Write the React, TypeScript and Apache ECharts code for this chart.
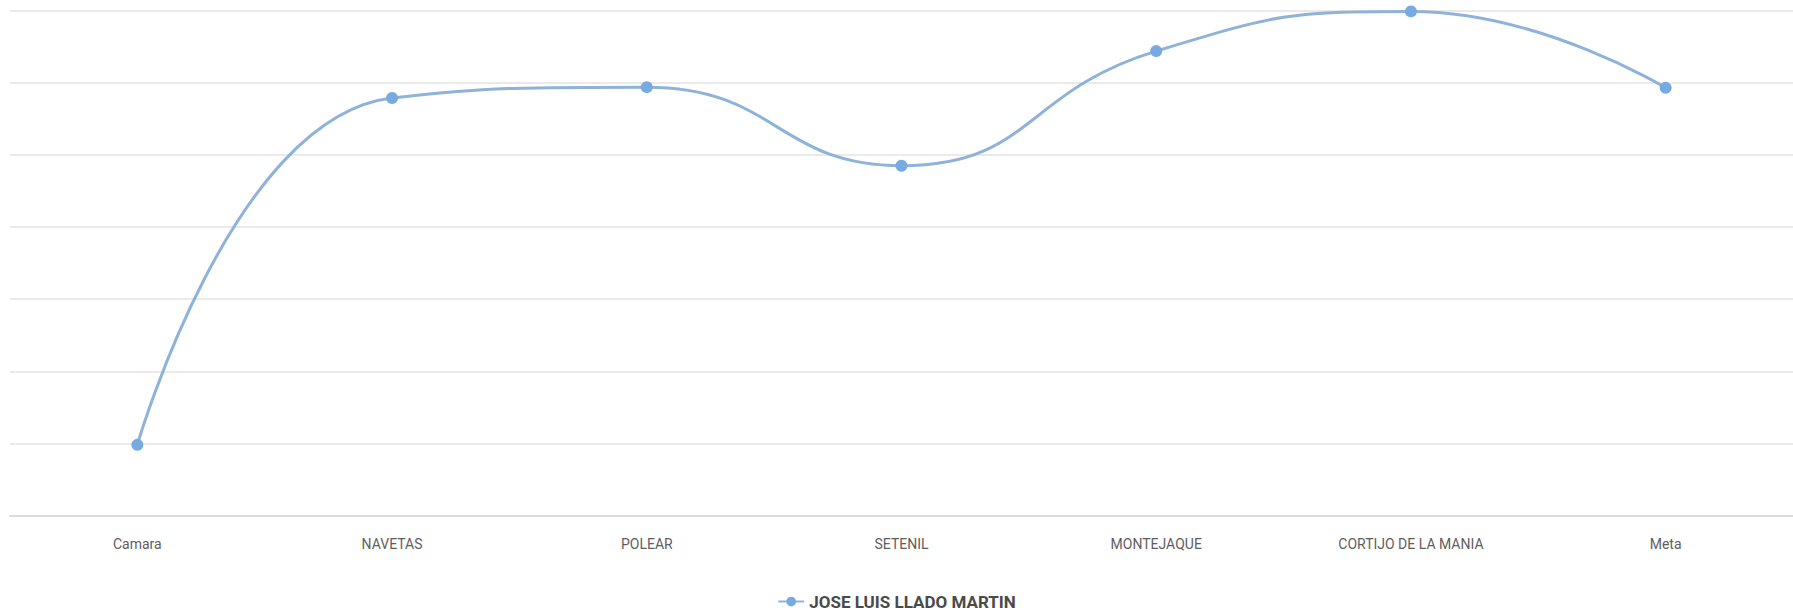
import React, { useEffect, useRef } from "react";
import * as echarts from "echarts";

const categories = ["Camara", "NAVETAS", "POLEAR", "SETENIL", "MONTEJAQUE", "CORTIJO DE LA MANIA", "Meta"];
const seriesName = "JOSE LUIS LLADO MARTIN";
const seriesValues = [0.98, 5.79, 5.94, 4.85, 6.44, 6.99, 5.93];

export default function App() {
  const ref = useRef<HTMLDivElement>(null);
  useEffect(() => {
    if (!ref.current) return;
    const chart = echarts.init(ref.current, undefined, { renderer: "svg" });
    chart.setOption({
      animation: false,
      backgroundColor: "#ffffff",
      textStyle: { fontFamily: "Roboto" },
      grid: { left: 10, right: 0, top: 10.7, bottom: 95.5, containLabel: false },
      legend: {
        data: [seriesName],
        top: 588,
        left: "center",
        itemWidth: 26,
        itemHeight: 12,
        textStyle: { fontSize: 17, fontWeight: "bold", color: "#4a4a4a", fontFamily: "Roboto" },
      },
      xAxis: {
        type: "category",
        data: categories,
        boundaryGap: true,
        axisLine: { lineStyle: { color: "#dcdcdc", width: 2 } },
        axisTick: { show: false },
        axisLabel: { color: "#5e5e5e", fontSize: 14, margin: 21, fontFamily: "Roboto" },
      },
      yAxis: {
        type: "value",
        min: 0,
        max: 7,
        interval: 1,
        axisLabel: { show: false },
        axisLine: { show: false },
        axisTick: { show: false },
        splitLine: { lineStyle: { color: "#e3e3e3", width: 1.5 } },
      },
      series: [
        {
          name: seriesName,
          type: "line",
          data: seriesValues,
          smooth: 0.5,
          symbol: "circle",
          symbolSize: 12,
          lineStyle: { color: "#8fb3d8", width: 3 },
          itemStyle: { color: "#76aae0" },
        },
      ],
    });
    return () => chart.dispose();
  }, []);
  return (
    <div
      ref={ref}
      style={{ position: "absolute", left: 0, top: 0, width: 1793, height: 611 }}
    />
  );
}
